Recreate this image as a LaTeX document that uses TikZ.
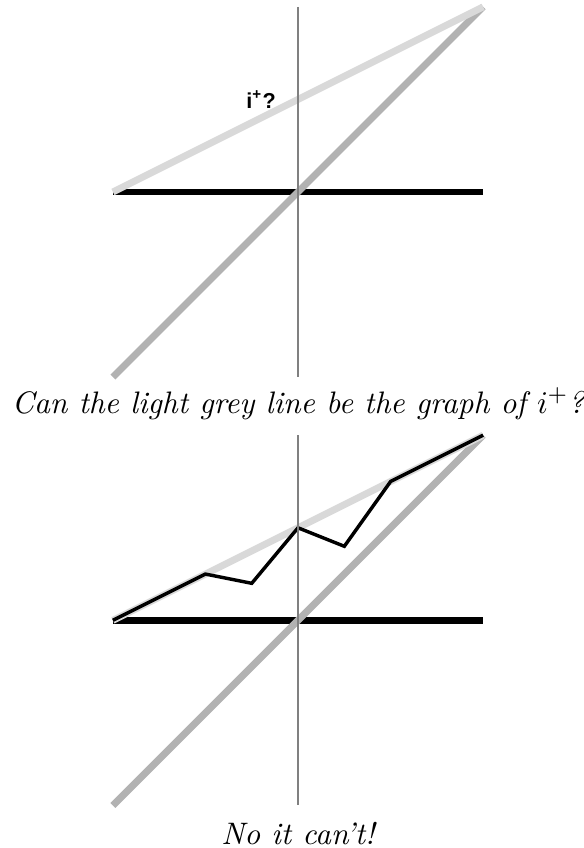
\documentclass[tikz,border=0pt]{standalone}
\usepackage{fontspec}
\newfontfamily\labelfont{Liberation Sans}
\usetikzlibrary{positioning}

\begin{document}
\begin{tikzpicture}[
  x=2.26cm,y=2.26cm,
  axis/.style={draw=black!50,line width=0.5pt},
  zero/.style={draw=black,line width=2.4pt},
  ident/.style={draw=black!30,line width=2.4pt},
  guess/.style={draw=black!15,line width=2.4pt},
  walk/.style={draw=black,line width=1.2pt,line join=miter},
  caption/.style={anchor=base,font=\fontsize{10.8}{13}\selectfont\itshape}
]
  \useasboundingbox (-1.610,-3.544) rectangle (1.540,1.037);

  % first panel
  \begin{scope}
    \coordinate (L1) at (-1,0);
    \coordinate (R1) at (1,0);
    \coordinate (T1) at (1,1);
    \coordinate (B1) at (-1,-1);
    \draw[zero] (L1) -- (R1);
    \draw[ident] (B1) -- (T1);
    \draw[guess] (L1) -- (T1);
    \draw[axis] (0,1) -- (0,-1);
    \node[font=\labelfont\bfseries\fontsize{7.5}{9}\selectfont] (ilabel) at (-0.2,0.5) {i\textsuperscript{+}?};
    \node[caption] (ask) at (0,-1.195) {Can the light grey line be the graph of $i^+$?};
  \end{scope}

  % second panel
  \begin{scope}[yshift=-5.23cm]
    \coordinate (L2) at (-1,0);
    \coordinate (R2) at (1,0);
    \coordinate (T2) at (1,1);
    \coordinate (B2) at (-1,-1);
    \draw[zero] (L2) -- (R2);
    \draw[ident] (B2) -- (T2);
    \draw[guess] (L2) -- (T2);
    \draw[walk] (L2) -- (-0.5,0.25) -- (-0.25,0.2) -- (0,0.5)
      -- (0.25,0.4) -- (0.5,0.75) -- (T2);
    \draw[axis] (0,1) -- (0,-1);
    \node[caption] (answer) at (0,-1.21) {No it can't!};
  \end{scope}
\end{tikzpicture}
\end{document}
